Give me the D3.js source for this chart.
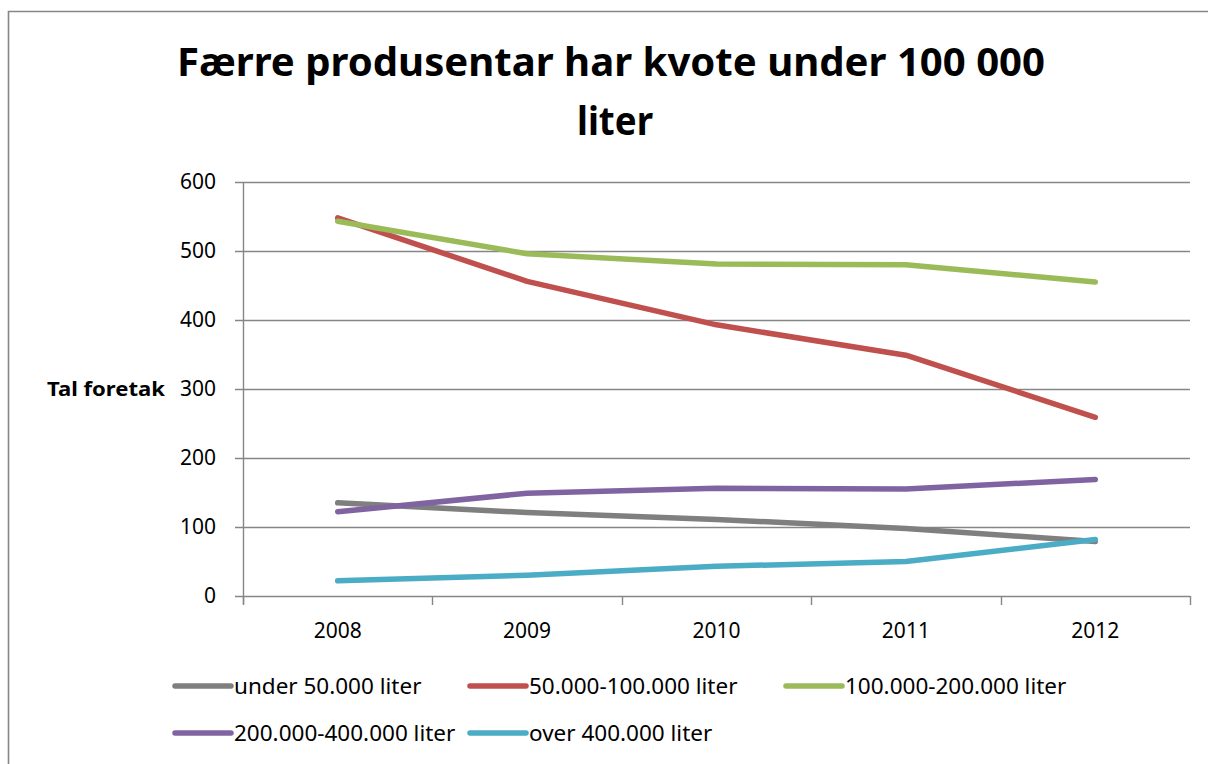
<!DOCTYPE html>
<html lang="nn">
  <head>
    <meta charset="UTF-8" />
    <title>Færre produsentar har kvote under 100 000 liter</title>
    <style>
      html, body { margin: 0; padding: 0; background: #fff; }
      svg { display: block; }
      text { font-family: "Noto Sans", "Open Sans", sans-serif; fill: #000; }
    </style>
  </head>
  <body>
    <div id="chart">
      <svg width="1208" height="764"></svg>
    </div>
    <script src="https://d3js.org/d3.v7.min.js"></script>
    <script>
      // data
      var years = ["2008", "2009", "2010", "2011", "2012"];
      var yTicks = [0, 100, 200, 300, 400, 500, 600];
      var seriesNames = [
        "under 50.000 liter",
        "50.000-100.000 liter",
        "100.000-200.000 liter",
        "200.000-400.000 liter",
        "over 400.000 liter"
      ];
      var under50 = [135, 121, 111, 98, 79];
      var from50to100 = [548, 456, 393, 349, 259];
      var from100to200 = [543, 496, 481, 480, 455];
      var from200to400 = [122, 149, 156, 155, 169];
      var over400 = [22, 30, 43, 50, 82];
      var colors = ["#7f7f7f", "#c0504d", "#9bbb59", "#8064a2", "#4bacc6"];

      var allValues = [under50, from50to100, from100to200, from200to400, over400];
      var series = seriesNames.map(function (name, i) {
        return {
          name: name,
          color: colors[i],
          values: years.map(function (yr, j) { return { year: yr, value: allValues[i][j] }; })
        };
      });

      var svg = d3.select("#chart>svg");
      var plotLeft = 243, plotRight = 1190, plotTop = 182, plotBottom = 596;

      // outer chart border (runs off the page on right and bottom)
      svg.append("path")
        .attr("d", "M8.5,800 V11.5 H1300")
        .attr("fill", "none")
        .attr("stroke", "#868686")
        .attr("stroke-width", 1.6);

      // title
      var title = svg.append("text")
        .attr("text-anchor", "middle")
        .attr("font-weight", "bold")
        .attr("font-size", 40);
      title.append("tspan").attr("x", 611).attr("y", 76)
        .attr("textLength", 868).attr("lengthAdjust", "spacingAndGlyphs")
        .text("Færre produsentar har kvote under 100 000");
      title.append("tspan").attr("x", 615).attr("y", 135)
        .attr("textLength", 76).attr("lengthAdjust", "spacingAndGlyphs")
        .text("liter");

      var x = d3.scaleBand().domain(years).range([plotLeft, plotRight]).paddingInner(0).paddingOuter(0);
      var y = d3.scaleLinear().domain([0, 600]).range([plotBottom, plotTop]);

      // gridlines
      svg.append("g")
        .selectAll("line")
        .data(yTicks)
        .join("line")
        .attr("x1", plotLeft - 8)
        .attr("x2", plotRight)
        .attr("y1", function (d) { return Math.round(y(d)) + 0.5; })
        .attr("y2", function (d) { return Math.round(y(d)) + 0.5; })
        .attr("stroke", "#868686")
        .attr("stroke-width", 1.4);

      // y axis line
      svg.append("line")
        .attr("x1", plotLeft + 0.5).attr("x2", plotLeft + 0.5)
        .attr("y1", y(600)).attr("y2", y(0) + 8)
        .attr("stroke", "#868686").attr("stroke-width", 1.4);

      // x axis ticks at band edges
      var edges = years.map(function (d) { return x(d); }).concat([plotRight]);
      svg.append("g")
        .selectAll("line")
        .data(edges)
        .join("line")
        .attr("x1", function (d) { return Math.round(d) + 0.5; })
        .attr("x2", function (d) { return Math.round(d) + 0.5; })
        .attr("y1", y(0))
        .attr("y2", y(0) + 9)
        .attr("stroke", "#868686")
        .attr("stroke-width", 1.4);

      // y tick labels
      svg.append("g")
        .selectAll("text")
        .data(yTicks)
        .join("text")
        .attr("x", 216)
        .attr("y", function (d) { return y(d); })
        .attr("dy", "0.35em")
        .attr("text-anchor", "end")
        .attr("font-size", 21)
        .text(function (d) { return d; });

      // x tick labels
      svg.append("g")
        .selectAll("text")
        .data(years)
        .join("text")
        .attr("x", function (d) { return x(d) + x.bandwidth() / 2; })
        .attr("y", 638)
        .attr("text-anchor", "middle")
        .attr("font-size", 21)
        .text(function (d) { return d; });

      // y axis title
      svg.append("text")
        .attr("x", 165)
        .attr("y", y(300))
        .attr("dy", "0.35em")
        .attr("text-anchor", "end")
        .attr("font-size", 20)
        .attr("font-weight", "bold")
        .attr("textLength", 118)
        .attr("lengthAdjust", "spacingAndGlyphs")
        .text("Tal foretak");

      var line = d3.line()
        .x(function (d) { return x(d.year) + x.bandwidth() / 2; })
        .y(function (d) { return y(d.value); });

      svg.append("g")
        .selectAll("path")
        .data(series)
        .join("path")
        .attr("fill", "none")
        .attr("stroke", function (d) { return d.color; })
        .attr("stroke-width", 5.5)
        .attr("stroke-linejoin", "round")
        .attr("stroke-linecap", "round")
        .attr("d", function (d) { return line(d.values); });

      // legend
      var legendPos = [
        { x: 175, y: 686 },
        { x: 470, y: 686 },
        { x: 786, y: 686 },
        { x: 175, y: 733 },
        { x: 470, y: 733 }
      ];
      var legend = svg.append("g")
        .selectAll("g")
        .data(series)
        .join("g")
        .attr("transform", function (d, i) {
          return "translate(" + legendPos[i].x + "," + legendPos[i].y + ")";
        });
      legend.append("line")
        .attr("x1", 0).attr("x2", 56)
        .attr("stroke", function (d) { return d.color; })
        .attr("stroke-width", 5.5)
        .attr("stroke-linecap", "round");
      legend.append("text")
        .attr("x", 59)
        .attr("dy", "0.35em")
        .attr("font-size", 22.5)
        .text(function (d) { return d.name; });
    </script>
  </body>
</html>
